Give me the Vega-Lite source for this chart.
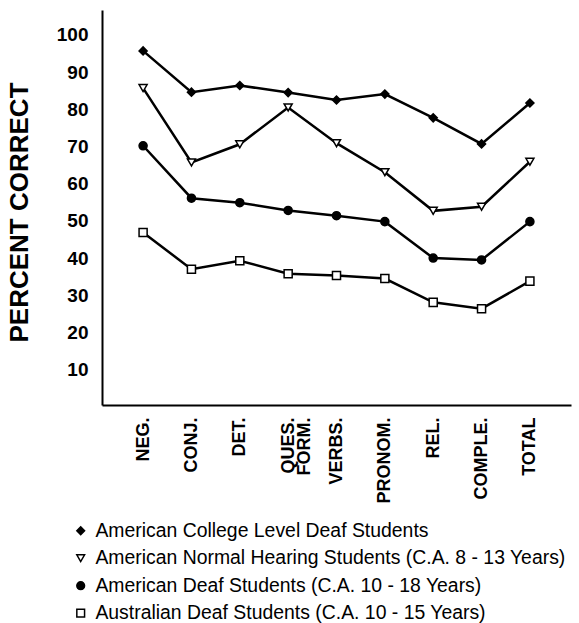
{
  "$schema": "https://vega.github.io/schema/vega-lite/v6.json",
  "autosize": {"type": "none"},
  "width": 469,
  "height": 395,
  "padding": {"left": 102, "top": 10, "right": 8, "bottom": 218},
  "background": "white",
  "config": {
    "view": {"stroke": null},
    "font": "Liberation Sans",
    "axis": {"domainColor": "black", "domainWidth": 2, "ticks": false, "tickSize": 0, "grid": false, "labelColor": "black", "titleColor": "black", "labelFont": "Liberation Sans", "titleFont": "Liberation Sans"}
  },
  "data": {
    "values": [
      {"cat": "NEG.", "series": "American College Level Deaf Students", "pct": 95.7},
      {"cat": "CONJ.", "series": "American College Level Deaf Students", "pct": 84.6},
      {"cat": "DET.", "series": "American College Level Deaf Students", "pct": 86.4},
      {"cat": "QUES. FORM.", "series": "American College Level Deaf Students", "pct": 84.5},
      {"cat": "VERBS.", "series": "American College Level Deaf Students", "pct": 82.5},
      {"cat": "PRONOM.", "series": "American College Level Deaf Students", "pct": 84.1},
      {"cat": "REL.", "series": "American College Level Deaf Students", "pct": 77.7},
      {"cat": "COMPLE.", "series": "American College Level Deaf Students", "pct": 70.7},
      {"cat": "TOTAL", "series": "American College Level Deaf Students", "pct": 81.7},
      {"cat": "NEG.", "series": "American Normal Hearing Students (C.A. 8 - 13 Years)", "pct": 85.7},
      {"cat": "CONJ.", "series": "American Normal Hearing Students (C.A. 8 - 13 Years)", "pct": 65.7},
      {"cat": "DET.", "series": "American Normal Hearing Students (C.A. 8 - 13 Years)", "pct": 70.6},
      {"cat": "QUES. FORM.", "series": "American Normal Hearing Students (C.A. 8 - 13 Years)", "pct": 80.5},
      {"cat": "VERBS.", "series": "American Normal Hearing Students (C.A. 8 - 13 Years)", "pct": 70.9},
      {"cat": "PRONOM.", "series": "American Normal Hearing Students (C.A. 8 - 13 Years)", "pct": 63.1},
      {"cat": "REL.", "series": "American Normal Hearing Students (C.A. 8 - 13 Years)", "pct": 52.7},
      {"cat": "COMPLE.", "series": "American Normal Hearing Students (C.A. 8 - 13 Years)", "pct": 53.8},
      {"cat": "TOTAL", "series": "American Normal Hearing Students (C.A. 8 - 13 Years)", "pct": 65.9},
      {"cat": "NEG.", "series": "American Deaf Students (C.A. 10 - 18 Years)", "pct": 70.2},
      {"cat": "CONJ.", "series": "American Deaf Students (C.A. 10 - 18 Years)", "pct": 56.1},
      {"cat": "DET.", "series": "American Deaf Students (C.A. 10 - 18 Years)", "pct": 54.9},
      {"cat": "QUES. FORM.", "series": "American Deaf Students (C.A. 10 - 18 Years)", "pct": 52.8},
      {"cat": "VERBS.", "series": "American Deaf Students (C.A. 10 - 18 Years)", "pct": 51.4},
      {"cat": "PRONOM.", "series": "American Deaf Students (C.A. 10 - 18 Years)", "pct": 49.8},
      {"cat": "REL.", "series": "American Deaf Students (C.A. 10 - 18 Years)", "pct": 40.0},
      {"cat": "COMPLE.", "series": "American Deaf Students (C.A. 10 - 18 Years)", "pct": 39.5},
      {"cat": "TOTAL", "series": "American Deaf Students (C.A. 10 - 18 Years)", "pct": 49.8},
      {"cat": "NEG.", "series": "Australian Deaf Students (C.A. 10 - 15 Years)", "pct": 46.9},
      {"cat": "CONJ.", "series": "Australian Deaf Students (C.A. 10 - 15 Years)", "pct": 37.0},
      {"cat": "DET.", "series": "Australian Deaf Students (C.A. 10 - 15 Years)", "pct": 39.3},
      {"cat": "QUES. FORM.", "series": "Australian Deaf Students (C.A. 10 - 15 Years)", "pct": 35.8},
      {"cat": "VERBS.", "series": "Australian Deaf Students (C.A. 10 - 15 Years)", "pct": 35.3},
      {"cat": "PRONOM.", "series": "Australian Deaf Students (C.A. 10 - 15 Years)", "pct": 34.5},
      {"cat": "REL.", "series": "Australian Deaf Students (C.A. 10 - 15 Years)", "pct": 28.1},
      {"cat": "COMPLE.", "series": "Australian Deaf Students (C.A. 10 - 15 Years)", "pct": 26.4},
      {"cat": "TOTAL", "series": "Australian Deaf Students (C.A. 10 - 15 Years)", "pct": 33.8}
    ]
  },
  "encoding": {
    "x": {
      "field": "cat",
      "type": "nominal",
      "sort": ["NEG.", "CONJ.", "DET.", "QUES. FORM.", "VERBS.", "PRONOM.", "REL.", "COMPLE.", "TOTAL"],
      "scale": {"type": "point", "padding": 0.85},
      "axis": {
        "title": null,
        "labelAngle": 270,
        "labelAlign": "right",
        "labelBaseline": "middle",
        "labelPadding": 12,
        "labelFontSize": 18,
        "labelFontWeight": "bold",
        "labelLineHeight": 16,
        "labelExpr": "datum.label == 'QUES. FORM.' ? ['QUES.', 'FORM.'] : datum.label"
      }
    },
    "y": {
      "field": "pct",
      "type": "quantitative",
      "scale": {"domain": [0.5, 106.7], "nice": false, "zero": false},
      "axis": {
        "values": [10, 20, 30, 40, 50, 60, 70, 80, 90, 100],
        "labelPadding": 14,
        "labelFontSize": 19,
        "labelFontWeight": "bold",
        "title": "PERCENT CORRECT",
        "titleFontSize": 26,
        "titleFontWeight": "bold",
        "titleAngle": 270,
        "titleAlign": "center",
        "titleBaseline": "bottom",
        "titleX": -70,
        "titleY": 202
      }
    }
  },
  "layer": [
    {
      "mark": {"type": "line", "color": "black", "strokeWidth": 2.5},
      "encoding": {"detail": {"field": "series", "type": "nominal"}}
    },
    {
      "mark": {"type": "point", "filled": true, "stroke": "black", "strokeWidth": 1.5, "size": 65, "opacity": 1},
      "encoding": {
        "shape": {
          "field": "series",
          "type": "nominal",
          "scale": {
            "domain": ["American College Level Deaf Students", "American Normal Hearing Students (C.A. 8 - 13 Years)", "American Deaf Students (C.A. 10 - 18 Years)", "Australian Deaf Students (C.A. 10 - 15 Years)"],
            "range": ["diamond", "triangle-down", "circle", "square"]
          },
          "legend": {
            "title": null,
            "orient": "none",
            "legendX": -31,
            "legendY": 511,
            "padding": 0,
            "rowPadding": 6.5,
            "labelFontSize": 19.4,
            "labelFont": "Liberation Sans",
            "labelColor": "black",
            "labelLimit": 700,
            "labelOffset": 5,
            "symbolSize": 60,
            "symbolStrokeColor": "black",
            "symbolStrokeWidth": 1.5,
            "symbolOpacity": 1,
            "encode": {"symbols": {"update": {"stroke": {"value": "black"}, "strokeWidth": {"value": 1.5}}}}
          }
        },
        "fill": {
          "field": "series",
          "type": "nominal",
          "scale": {
            "domain": ["American College Level Deaf Students", "American Normal Hearing Students (C.A. 8 - 13 Years)", "American Deaf Students (C.A. 10 - 18 Years)", "Australian Deaf Students (C.A. 10 - 15 Years)"],
            "range": ["black", "white", "black", "white"]
          },
          "legend": {
            "title": null,
            "orient": "none",
            "legendX": -31,
            "legendY": 511,
            "padding": 0,
            "rowPadding": 6.5,
            "labelFontSize": 19.4,
            "labelFont": "Liberation Sans",
            "labelColor": "black",
            "labelLimit": 700,
            "labelOffset": 5,
            "symbolSize": 60,
            "symbolStrokeColor": "black",
            "symbolStrokeWidth": 1.5,
            "symbolOpacity": 1,
            "encode": {"symbols": {"update": {"stroke": {"value": "black"}, "strokeWidth": {"value": 1.5}}}}
          }
        }
      }
    }
  ]
}
